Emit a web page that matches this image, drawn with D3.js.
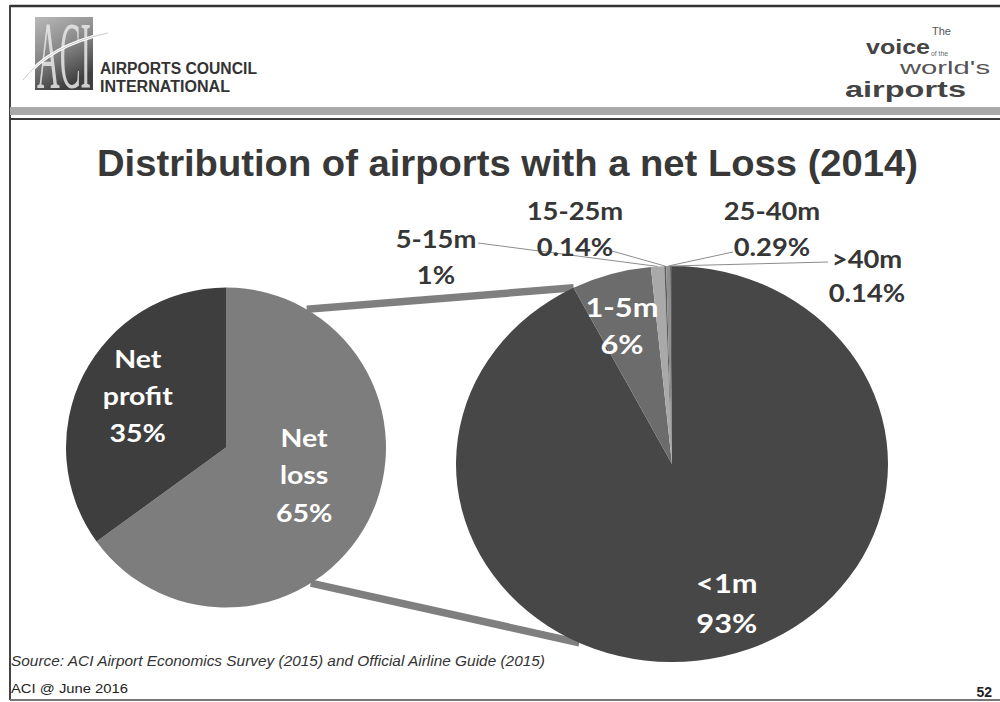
<!DOCTYPE html>
<html><head><meta charset="utf-8">
<script src="https://cdn.jsdelivr.net/npm/d3@7"></script>
<style>html,body{margin:0;padding:0;background:#fff;} svg{display:block}</style>
</head><body><svg id="c" width="1000" height="702"></svg>
<script>
// ---------- data ----------
const title = "Distribution of airports with a net Loss (2014)";
const mainCategories = ["Net loss", "Net profit"];
const mainValues = [65, 35];
const mainLabelLines = [["Net", "loss", "65%"], ["Net", "profit", "35%"]];
const subCategories = ["<1m", "1-5m", "5-15m", "15-25m", "25-40m", ">40m"];
const subValues = [93, 6, 1, 0.14, 0.29, 0.14];
const subPercents = ["93%", "6%", "1%", "0.14%", "0.29%", "0.14%"];
const sourceText = "Source: ACI Airport Economics Survey (2015) and Official Airline Guide (2015)";
const footerText = "ACI @ June 2016";
const pageNumber = "52";
const orgLines = ["AIRPORTS COUNCIL", "INTERNATIONAL"];

// ---------- layout / style ----------
const svg = d3.select("#c");
const ink = "#363636";
const lf = "Lato, 'Open Sans', sans-serif";
const main = {cx: 226, cy: 447.5, r: 160};
const sub = {cx: 672, cy: 464, rx: 216, ry: 198};
const mainColors = ["#7d7d7d", "#3e3e3e"];
const subColors = ["#474747", "#6c6c6c", "#a9a9a9", "#5c5c5c", "#8f8f8f", "#5c5c5c"];

// page frame
svg.append("line").attr("x1", 10).attr("x2", 1000).attr("y1", 6).attr("y2", 6).attr("stroke", "#333").attr("stroke-width", 2.5);
svg.append("line").attr("x1", 10).attr("x2", 10).attr("y1", 5).attr("y2", 700).attr("stroke", "#444").attr("stroke-width", 2);
svg.append("line").attr("x1", 10).attr("x2", 1000).attr("y1", 700).attr("y2", 700).attr("stroke", "#777").attr("stroke-width", 2);
svg.append("rect").attr("x", 10).attr("y", 107).attr("width", 990).attr("height", 8).attr("fill", "#a9a9a9");
svg.append("line").attr("x1", 10).attr("x2", 1000).attr("y1", 119).attr("y2", 119).attr("stroke", "#3a3a3a").attr("stroke-width", 2);

// ACI logo
const defs = svg.append("defs");
const lg = defs.append("linearGradient").attr("id", "logoG").attr("x1", 0).attr("y1", 0).attr("x2", 0.4).attr("y2", 1);
lg.append("stop").attr("offset", "0%").attr("stop-color", "#b9b9b9");
lg.append("stop").attr("offset", "50%").attr("stop-color", "#8a8a8a");
lg.append("stop").attr("offset", "100%").attr("stop-color", "#3f3f3f");
svg.append("rect").attr("x", 35).attr("y", 17).attr("width", 58).attr("height", 73).attr("fill", "url(#logoG)");
svg.append("g").attr("transform", "translate(37,88) scale(1,3.2)")
  .append("text").attr("x", 0).attr("y", 0).attr("font-family", "'Liberation Serif', serif").attr("font-size", 30)
  .attr("textLength", 54).attr("lengthAdjust", "spacingAndGlyphs").attr("fill", "#e8e8e8").attr("opacity", 0.85).text("ACI");
svg.append("path").attr("d", "M23,80 Q50,45 108,33").attr("fill", "none").attr("stroke", "#fff").attr("stroke-width", 3);
svg.append("path").attr("d", "M23,80 Q50,45 108,33").attr("fill", "none").attr("stroke", "#bbb").attr("stroke-width", 0.8);
const org = svg.append("text").attr("font-family", "'Liberation Sans', Arial, sans-serif").attr("font-weight", "bold")
  .attr("font-size", 16).attr("fill", "#333");
orgLines.forEach((t, i) => org.append("tspan").attr("x", 100).attr("y", 74 + i * 18)
  .attr("textLength", i === 0 ? 157 : 130).attr("lengthAdjust", "spacingAndGlyphs").text(t));

// voice of the world's airports
const vf = "'Liberation Sans', Arial, sans-serif";
svg.append("text").attr("x", 932).attr("y", 35).attr("font-family", vf).attr("font-size", 11).attr("fill", "#555").text("The");
svg.append("text").attr("x", 866).attr("y", 54).attr("font-family", vf).attr("font-weight", "bold").attr("font-size", 21)
  .attr("textLength", 64).attr("lengthAdjust", "spacingAndGlyphs").attr("fill", "#444").text("voice");
svg.append("text").attr("x", 931).attr("y", 56).attr("font-family", vf).attr("font-size", 7)
  .attr("textLength", 17).attr("lengthAdjust", "spacingAndGlyphs").attr("fill", "#666").text("of the");
svg.append("text").attr("x", 900).attr("y", 74).attr("font-family", vf).attr("font-size", 18)
  .attr("textLength", 90).attr("lengthAdjust", "spacingAndGlyphs").attr("fill", "#555").text("world's");
svg.append("text").attr("x", 845).attr("y", 97).attr("font-family", vf).attr("font-weight", "bold").attr("font-size", 22)
  .attr("textLength", 121).attr("lengthAdjust", "spacingAndGlyphs").attr("fill", "#444").text("airports");

// title
svg.append("text").attr("x", 97).attr("y", 176).attr("font-family", "'Liberation Sans', Arial, sans-serif")
  .attr("font-weight", "bold").attr("font-size", 36).attr("textLength", 821).attr("lengthAdjust", "spacingAndGlyphs")
  .attr("fill", "#383838").text(title);

// ---------- pies ----------
const pie = d3.pie().sort(null).value(d => d);
const mainArcs = pie(mainValues);
const subArcs = pie(subValues);

const ellPt = (a, f = 1) => [sub.cx + Math.sin(a) * sub.rx * f, sub.cy - Math.cos(a) * sub.ry * f];
const cirPt = (a, f = 1) => [main.cx + Math.sin(a) * main.r * f, main.cy - Math.cos(a) * main.r * f];

// connector lines (behind pies)
const deg = Math.PI / 180;
const connectors = [
  [cirPt(30.3 * deg), ellPt(subArcs[0].endAngle)],
  [cirPt(148 * deg), ellPt(205.4 * deg)]
];
connectors.forEach(([p, q]) => svg.append("line").attr("x1", p[0]).attr("y1", p[1]).attr("x2", q[0]).attr("y2", q[1])
  .attr("stroke", "#7f7f7f").attr("stroke-width", 7.5));

const arcMain = d3.arc().innerRadius(0).outerRadius(main.r);
svg.append("g").attr("transform", `translate(${main.cx},${main.cy})`)
  .selectAll("path").data(mainArcs).join("path").attr("d", arcMain).attr("fill", (d, i) => mainColors[i]);

const arcSub = d3.arc().innerRadius(0).outerRadius(200);
svg.append("g").attr("transform", `translate(${sub.cx},${sub.cy}) scale(${sub.rx / 200},${sub.ry / 200})`)
  .selectAll("path").data(subArcs).join("path").attr("d", arcSub).attr("fill", (d, i) => subColors[i]);

// ---------- labels ----------
function block(x, firstBaseline, lines, o) {
  const g = svg.append("g").attr("transform", `translate(${x},${firstBaseline}) scale(${o.sx || 1.14},1)`);
  lines.forEach((t, i) => g.append("text").attr("x", 0).attr("y", i * o.lh).attr("text-anchor", "middle")
    .attr("font-family", lf).attr("font-weight", "bold").attr("font-size", o.size).attr("fill", o.fill).text(t));
}
function inner(pt, lines, o) {
  const first = pt[1] - ((lines.length - 1) * o.lh) / 2 + o.size * 0.36;
  block(pt[0], first, lines, o);
}
const mid = d => (d.startAngle + d.endAngle) / 2;

// main pie labels
const mainLabelR = [0.52, 0.64];
const mainLabelShift = [[4, -10], [3, -5]];
mainArcs.forEach((d, i) => {
  const p = cirPt(mid(d), mainLabelR[i]);
  inner([p[0] + mainLabelShift[i][0], p[1] + mainLabelShift[i][1]], mainLabelLines[i], {size: 25, lh: 37.5, fill: "#fff"});
});

// sub pie inner labels
const subInner = [{i: 0, r: 0.747, shift: [17, -5], lh: 40}, {i: 1, r: 0.74, shift: [-5, 2], lh: 37}];
subInner.forEach(s => {
  const d = subArcs[s.i];
  const p = ellPt(mid(d), s.r);
  inner([p[0] + s.shift[0], p[1] + s.shift[1]], [subCategories[s.i], subPercents[s.i]], {size: 27, lh: s.lh, fill: "#fff"});
});

// sub pie outside labels with leader lines
const outside = [
  {i: 2, x: 436, y: 248, lh: 36, lead: [478, 243]},
  {i: 3, x: 575, y: 219.5, lh: 37, lead: [612, 251]},
  {i: 4, x: 772, y: 219.5, lh: 37, lead: [733, 252]},
  {i: 5, x: 867, y: 268, lh: 34, lead: [828, 262]}
];
outside.forEach(s => {
  const q = ellPt(mid(subArcs[s.i]), 1.0);
  svg.append("line").attr("x1", s.lead[0]).attr("y1", s.lead[1]).attr("x2", q[0]).attr("y2", q[1])
    .attr("stroke", "#8c8c8c").attr("stroke-width", 1);
});
outside.forEach(s => block(s.x, s.y, [subCategories[s.i], subPercents[s.i]], {size: 24, lh: s.lh, fill: ink}));

// ---------- footer ----------
svg.append("text").attr("x", 11).attr("y", 666).attr("font-family", "'Liberation Sans Narrow', 'Liberation Sans', Arial, sans-serif")
  .attr("font-style", "italic").attr("font-size", 15).attr("textLength", 534).attr("lengthAdjust", "spacingAndGlyphs")
  .attr("fill", "#333").text(sourceText);
svg.append("text").attr("x", 11).attr("y", 693).attr("font-family", "'Liberation Sans Narrow', 'Liberation Sans', Arial, sans-serif")
  .attr("font-size", 13.5).attr("textLength", 117).attr("lengthAdjust", "spacingAndGlyphs").attr("fill", "#222").text(footerText);
svg.append("text").attr("x", 992).attr("y", 697).attr("text-anchor", "end").attr("font-family", "'Liberation Sans', Arial, sans-serif")
  .attr("font-weight", "bold").attr("font-size", 14).attr("fill", "#222").text(pageNumber);
</script></body></html>
